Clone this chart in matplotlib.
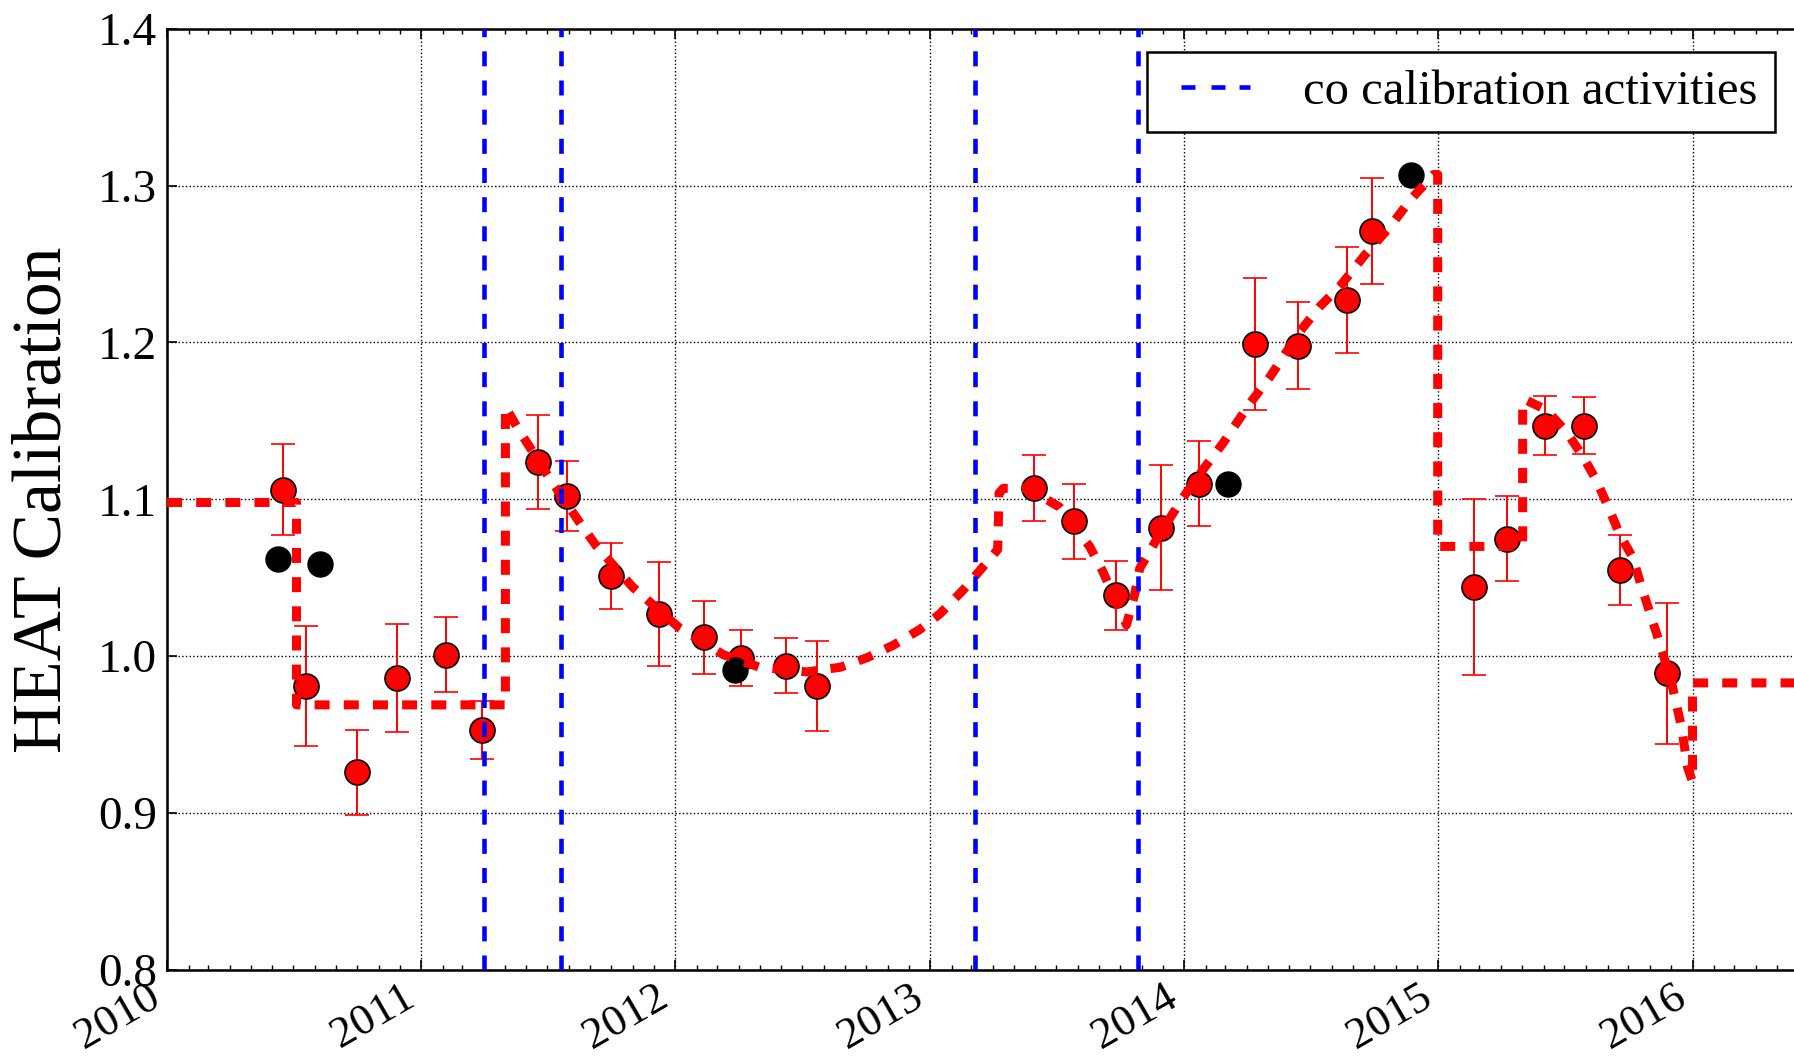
import numpy as np
import matplotlib
matplotlib.use('Agg')
import matplotlib.pyplot as plt
import matplotlib.dates as mdates
from matplotlib.lines import Line2D

plt.rcParams['font.family'] = 'serif'
plt.rcParams['font.serif'] = ['Liberation Serif', 'DejaVu Serif']
plt.rcParams['lines.scale_dashes'] = False

# Puntos de calibracion con barra de error
cal_dates = ['2010-06-16', '2010-07-19', '2010-10-01', '2010-11-27', '2011-02-06',
             '2011-03-30', '2011-06-18', '2011-07-29', '2011-09-30', '2011-12-09',
             '2012-02-11', '2012-04-05', '2012-06-08', '2012-07-22', '2013-05-30',
             '2013-07-26', '2013-09-25', '2013-11-28', '2014-01-22', '2014-04-12',
             '2014-06-14', '2014-08-23', '2014-09-28', '2015-02-21', '2015-04-10',
             '2015-06-03', '2015-07-29', '2015-09-19', '2015-11-26']
cal_vals = [1.106, 0.981, 0.926, 0.986, 1.001, 0.953, 1.124, 1.102, 1.051, 1.027,
            1.012, 0.999, 0.994, 0.981, 1.107, 1.086, 1.039, 1.082, 1.110, 1.199,
            1.198, 1.227, 1.271, 1.044, 1.075, 1.147, 1.147, 1.055, 0.989]
cal_errs = [0.029, 0.038, 0.027, 0.0345, 0.024, 0.0185, 0.030, 0.0225, 0.021, 0.033,
            0.0235, 0.018, 0.0174, 0.0285, 0.021, 0.024, 0.022, 0.0396, 0.027, 0.042,
            0.0275, 0.034, 0.034, 0.056, 0.027, 0.019, 0.0183, 0.0225, 0.045]

# Puntos negros sin error
black_dates = ['2010-06-09', '2010-08-08', '2012-03-27', '2014-03-05', '2014-11-22']
black_vals = [1.062, 1.059, 0.991, 1.110, 1.307]

# Modelo (linea roja discontinua)
fit_dates = ['2010-01-01', '2010-07-06', '2010-07-06', '2011-05-02', '2011-05-02',
             '2011-05-20', '2011-06-18', '2011-07-05', '2011-08-17', '2011-09-10',
             '2011-11-01', '2012-01-07', '2012-03-10', '2012-05-01', '2012-07-08',
             '2012-08-25', '2012-10-02', '2012-11-09', '2012-12-17', '2013-01-15',
             '2013-02-17', '2013-03-18', '2013-04-08', '2013-04-10', '2013-04-16',
             '2013-05-24', '2013-06-17', '2013-07-06', '2013-08-18', '2013-09-06',
             '2013-09-30', '2013-10-10', '2013-10-22', '2013-10-29', '2013-11-27',
             '2013-12-30', '2014-01-28', '2014-02-26', '2014-04-05', '2014-05-04',
             '2014-06-16', '2014-07-15', '2014-08-13', '2014-09-16', '2014-10-24',
             '2014-11-22', '2014-12-25', '2014-12-31', '2014-12-31', '2015-05-02',
             '2015-05-02', '2015-05-08', '2015-06-05', '2015-07-04', '2015-07-28',
             '2015-08-16', '2015-09-04', '2015-09-18', '2015-10-07', '2015-10-22',
             '2015-11-10', '2015-12-01', '2015-12-16', '2015-12-25', '2015-12-30',
             '2016-01-01', '2016-01-01', '2017-01-01']
fit_vals = [1.098, 1.098, 0.969, 0.969, 1.159,
            1.145, 1.125, 1.113, 1.085, 1.070,
            1.044, 1.018, 1.001, 0.993, 0.990,
            0.993, 0.999, 1.007, 1.017, 1.027,
            1.042, 1.057, 1.068, 1.104, 1.107,
            1.107, 1.100, 1.095, 1.070, 1.054,
            1.030, 1.020, 1.040, 1.056, 1.078,
            1.101, 1.119, 1.136, 1.161, 1.178,
            1.207, 1.223, 1.236, 1.255, 1.274,
            1.291, 1.307, 1.307, 1.070, 1.070,
            1.163, 1.163, 1.157, 1.143, 1.127,
            1.112, 1.093, 1.078, 1.063, 1.041,
            1.015, 0.985, 0.955, 0.929, 0.9225,
            0.920, 0.983, 0.983]

# Actividades de calibracion con Co
co_dates = ['2011-04-01', '2011-07-21', '2013-03-06', '2013-10-27']

year_ticks = ['2010-01-01', '2011-01-01', '2012-01-01', '2013-01-01',
              '2014-01-01', '2015-01-01', '2016-01-01']

cal_d = np.array(cal_dates, dtype='datetime64[D]')
black_d = np.array(black_dates, dtype='datetime64[D]')
fit_d = np.array(fit_dates, dtype='datetime64[D]')
co_d = np.array(co_dates, dtype='datetime64[D]')

fig = plt.figure(figsize=(17.94, 10.56), dpi=100)
ax = fig.add_axes([0.0931, 0.0814, 0.9924, 0.8915])

ax.errorbar(cal_d, cal_vals, yerr=cal_errs, fmt='o', color='red', ecolor='red',
            elinewidth=1.4, capsize=8.6, capthick=1.4, markersize=18,
            markeredgecolor='black', markeredgewidth=1.2, zorder=3)
ax.plot(black_d, black_vals, 'o', color='black', markersize=18, zorder=4)
ax.plot(fit_d, fit_vals, color='red', linewidth=6.5, dashes=(10.8, 10.2), zorder=5)

for d in co_d:
    ax.axvline(d, color='blue', linewidth=3.3, dashes=(10.8, 10.2), zorder=6)

ax.set_xlim(np.datetime64('2010-01-01'), np.datetime64('2017-01-01'))
ax.set_ylim(0.8, 1.4)
ax.set_yticks(np.arange(0.8, 1.41, 0.1))
ax.yaxis.set_major_formatter(matplotlib.ticker.FormatStrFormatter('%.1f'))
ax.set_xticks(np.array(year_ticks, dtype='datetime64[D]'))
ax.xaxis.set_major_formatter(mdates.DateFormatter('%Y'))
ax.xaxis.set_minor_locator(mdates.MonthLocator())

ax.grid(True, which='major', color='black', linestyle=':', linewidth=1.0)
ax.tick_params(which='both', direction='in', top=True, right=True)
ax.tick_params(axis='y', labelsize=34, pad=7)
ax.tick_params(axis='x', labelsize=32.5, pad=5)
ax.tick_params(which='major', length=7, width=1.2)
ax.tick_params(which='minor', length=3.5, width=1.0)
for lbl in ax.get_xticklabels():
    lbl.set_rotation(30)
    lbl.set_ha('right')
for s in ax.spines.values():
    s.set_linewidth(1.8)

ax.set_ylabel('HEAT Calibration', fontsize=50, labelpad=16)

# handle de leyenda: un hueco inicial y tres guiones
co_handle = Line2D([], [], color='blue', linewidth=3.3,
                   linestyle=(0, (0.01, 11.5, 10.1, 11.5, 10.1, 10.1, 10.1, 10.1)))
leg = ax.legend([co_handle], ['co calibration activities'], loc='upper right',
                bbox_to_anchor=(1775 / 1794, 1 - 51.7 / 1056),
                bbox_transform=fig.transFigure, borderaxespad=0,
                prop={'family': 'serif', 'size': 35},
                fancybox=False, framealpha=1, edgecolor='black',
                handlelength=1.75, handletextpad=1.09, borderpad=0.37)
leg.get_frame().set_linewidth(1.8)

fig.savefig('out.png', dpi=100)
